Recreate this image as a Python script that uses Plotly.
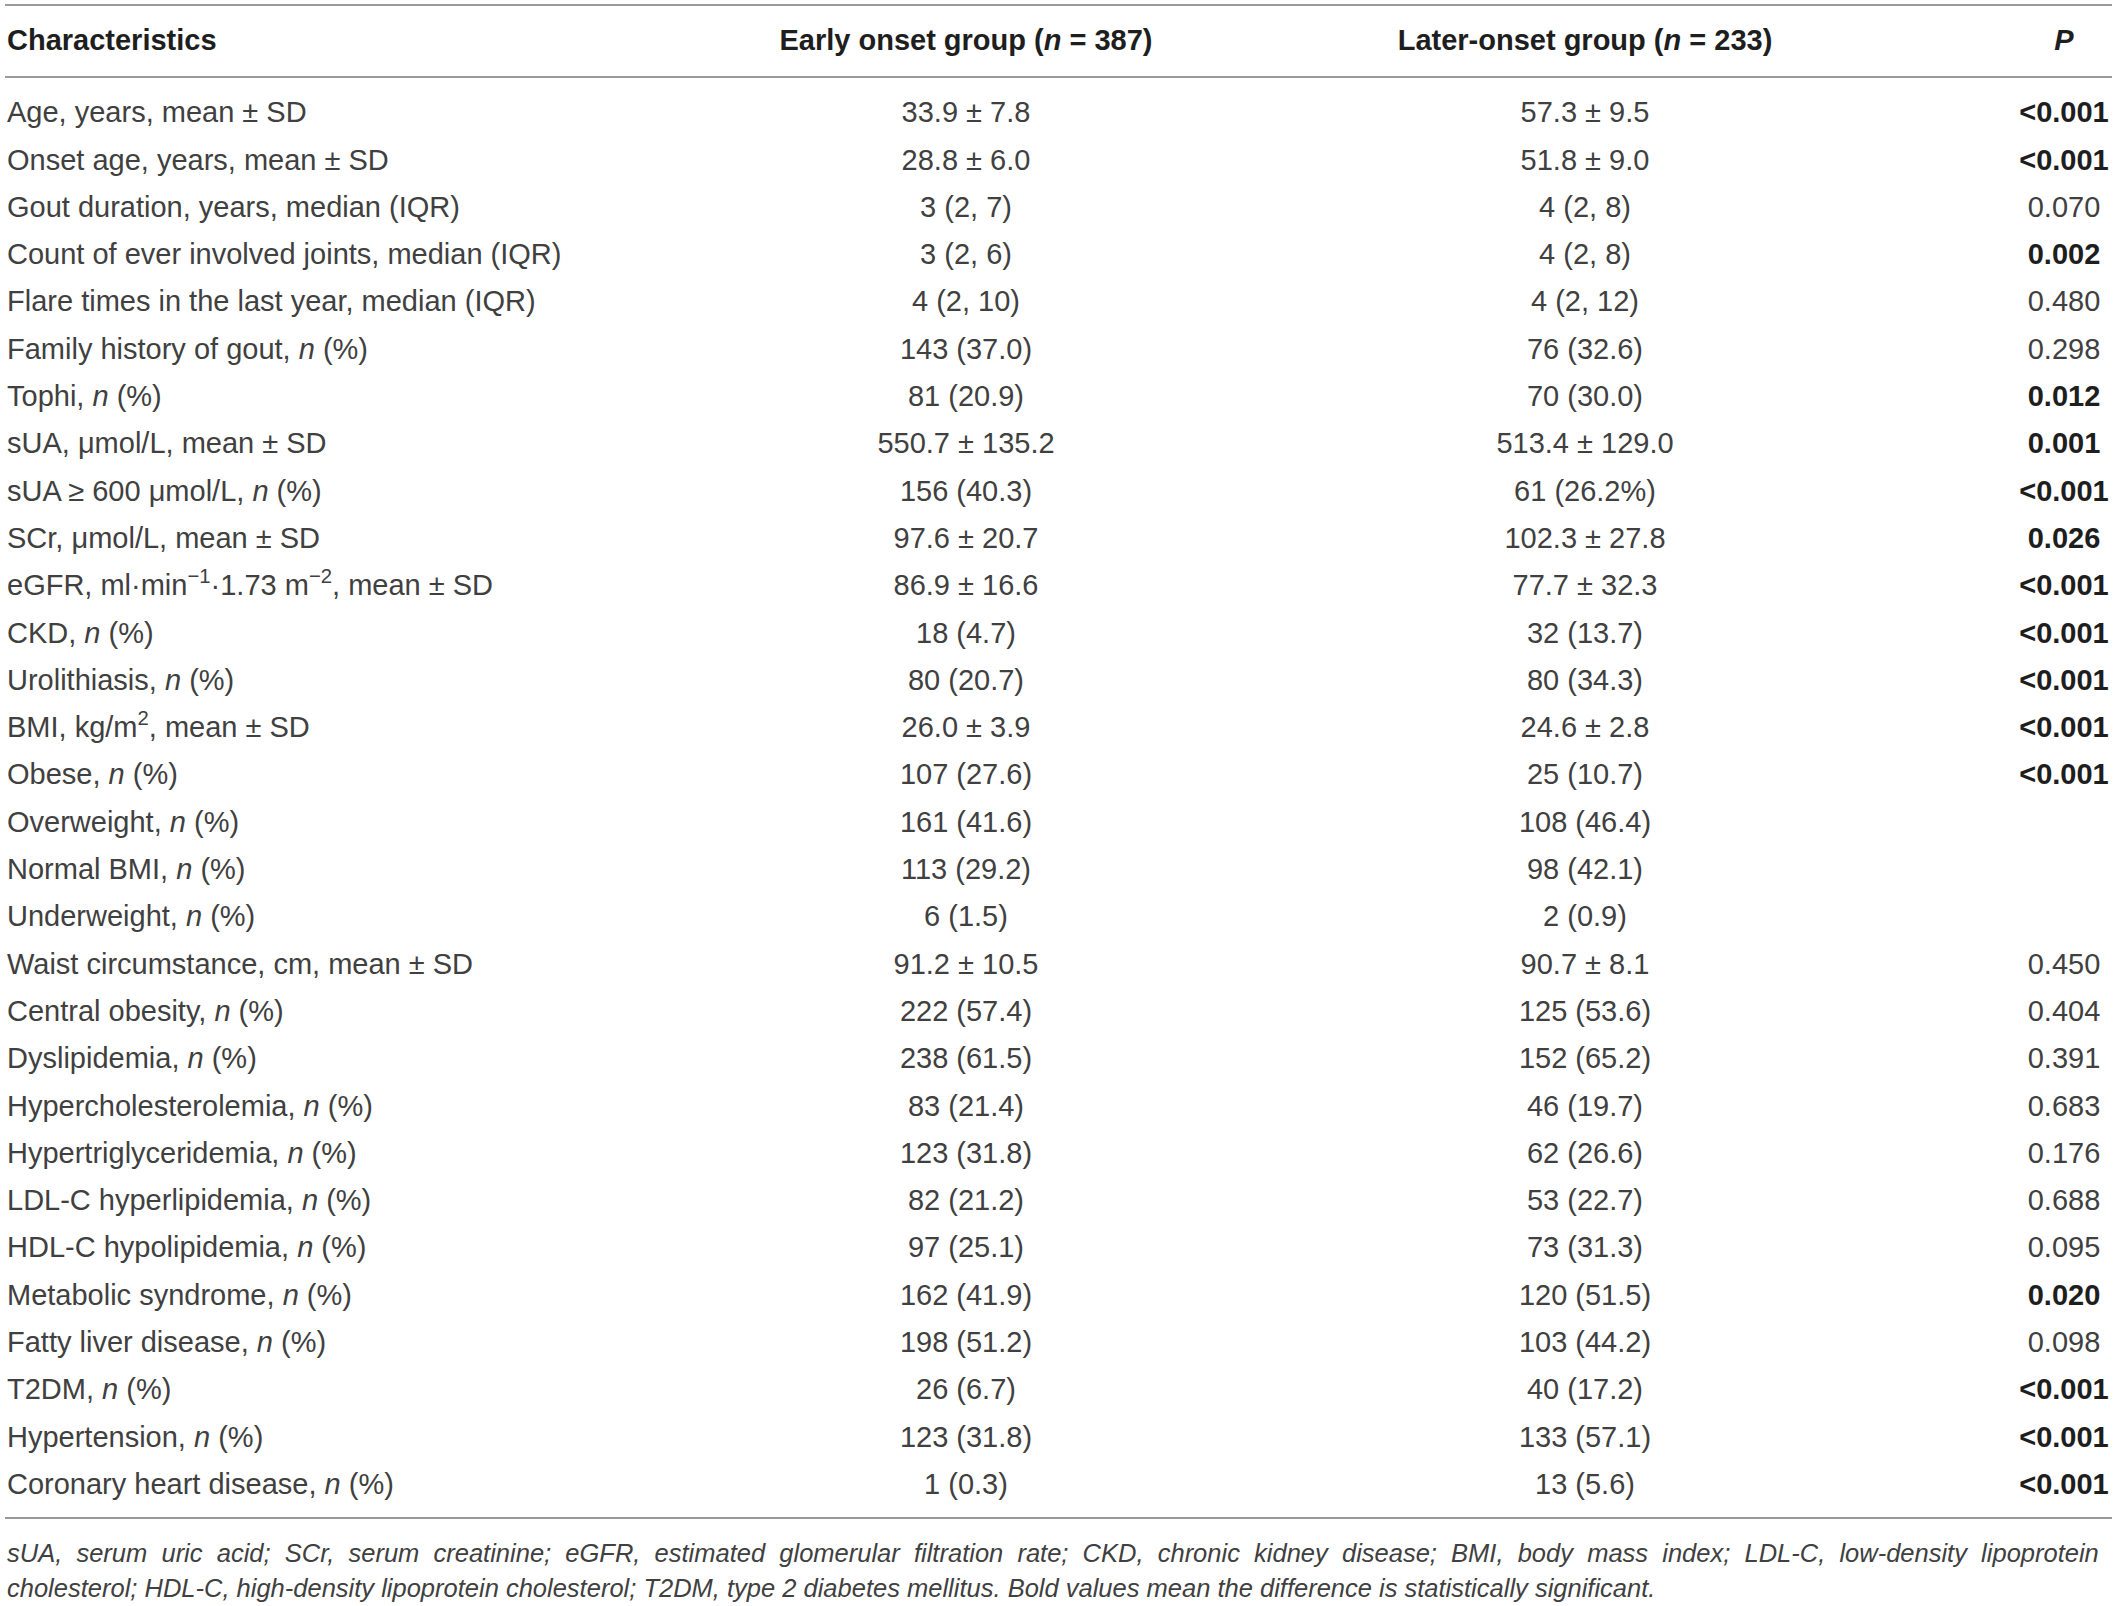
import plotly.graph_objects as go

## dados da tabela
caracteristicas = [
    'Age, years, mean ± SD',
    'Onset age, years, mean ± SD',
    'Gout duration, years, median (IQR)',
    'Count of ever involved joints, median (IQR)',
    'Flare times in the last year, median (IQR)',
    'Family history of gout, <i>n</i> (%)',
    'Tophi, <i>n</i> (%)',
    'sUA, μmol/L, mean ± SD',
    'sUA ≥ 600 μmol/L, <i>n</i> (%)',
    'SCr, μmol/L, mean ± SD',
    'eGFR, ml·min<sup>−1</sup>·1.73 m<sup>−2</sup>, mean ± SD',
    'CKD, <i>n</i> (%)',
    'Urolithiasis, <i>n</i> (%)',
    'BMI, kg/m<sup>2</sup>, mean ± SD',
    'Obese, <i>n</i> (%)',
    'Overweight, <i>n</i> (%)',
    'Normal BMI, <i>n</i> (%)',
    'Underweight, <i>n</i> (%)',
    'Waist circumstance, cm, mean ± SD',
    'Central obesity, <i>n</i> (%)',
    'Dyslipidemia, <i>n</i> (%)',
    'Hypercholesterolemia, <i>n</i> (%)',
    'Hypertriglyceridemia, <i>n</i> (%)',
    'LDL-C hyperlipidemia, <i>n</i> (%)',
    'HDL-C hypolipidemia, <i>n</i> (%)',
    'Metabolic syndrome, <i>n</i> (%)',
    'Fatty liver disease, <i>n</i> (%)',
    'T2DM, <i>n</i> (%)',
    'Hypertension, <i>n</i> (%)',
    'Coronary heart disease, <i>n</i> (%)',
]

grupo_precoce = [
    '33.9 ± 7.8', '28.8 ± 6.0', '3 (2, 7)', '3 (2, 6)', '4 (2, 10)',
    '143 (37.0)', '81 (20.9)', '550.7 ± 135.2', '156 (40.3)', '97.6 ± 20.7',
    '86.9 ± 16.6', '18 (4.7)', '80 (20.7)', '26.0 ± 3.9', '107 (27.6)',
    '161 (41.6)', '113 (29.2)', '6 (1.5)', '91.2 ± 10.5', '222 (57.4)',
    '238 (61.5)', '83 (21.4)', '123 (31.8)', '82 (21.2)', '97 (25.1)',
    '162 (41.9)', '198 (51.2)', '26 (6.7)', '123 (31.8)', '1 (0.3)',
]

grupo_tardio = [
    '57.3 ± 9.5', '51.8 ± 9.0', '4 (2, 8)', '4 (2, 8)', '4 (2, 12)',
    '76 (32.6)', '70 (30.0)', '513.4 ± 129.0', '61 (26.2%)', '102.3 ± 27.8',
    '77.7 ± 32.3', '32 (13.7)', '80 (34.3)', '24.6 ± 2.8', '25 (10.7)',
    '108 (46.4)', '98 (42.1)', '2 (0.9)', '90.7 ± 8.1', '125 (53.6)',
    '152 (65.2)', '46 (19.7)', '62 (26.6)', '53 (22.7)', '73 (31.3)',
    '120 (51.5)', '103 (44.2)', '40 (17.2)', '133 (57.1)', '13 (5.6)',
]

p_valor = [
    '<0.001', '<0.001', '0.070', '0.002', '0.480',
    '0.298', '0.012', '0.001', '<0.001', '0.026',
    '<0.001', '<0.001', '<0.001', '<0.001', '<0.001',
    '', '', '', '0.450', '0.404',
    '0.391', '0.683', '0.176', '0.688', '0.095',
    '0.020', '0.098', '<0.001', '<0.001', '<0.001',
]

significativo = [
    1, 1, 0, 1, 0,
    0, 1, 1, 1, 1,
    1, 1, 1, 1, 1,
    0, 0, 0, 0, 0,
    0, 0, 0, 0, 0,
    1, 0, 1, 1, 1,
]

cabecalho = [
    '<b>Characteristics</b>',
    '<b>Early onset group (<i>n</i> = 387)</b>',
    '<b>Later-onset group (<i>n</i> = 233)</b>',
    '<b><i>P</i></b>',
]

nota = [
    'sUA, serum uric acid; SCr, serum creatinine; eGFR, estimated glomerular filtration rate; '
    'CKD, chronic kidney disease; BMI, body mass index; LDL-C, low-density lipoprotein',
    'cholesterol; HDL-C, high-density lipoprotein cholesterol; T2DM, type 2 diabetes mellitus. '
    'Bold values mean the difference is statistically significant.',
]

################################################################################

W, H = 2118, 1606
FONTE = 'Liberation Sans, Arial, sans-serif'
COR_TEXTO = '#404040'
COR_NEGRITO = '#1e1e1e'
COR_LINHA = '#9a9a9a'
TAM = 29

# posicoes das colunas (px) e das linhas (indice de linha)
x_col = [7, 966, 1585, 2064]
linha0_px, passo = 115, 47.3

def px2lin(p):
    return (p - linha0_px) / passo

linhas = list(range(len(caracteristicas)))

fig = go.Figure()
colunas = [caracteristicas, grupo_precoce, grupo_tardio]
posicoes = ['middle right', 'middle center', 'middle center', 'middle center']
for i, col in enumerate(colunas):
    fig.add_trace(go.Scatter(x=[x_col[i]] * len(col), y=linhas, text=col, mode='text',
                             textposition=posicoes[i], marker=dict(size=0),
                             textfont=dict(family=FONTE, size=TAM, color=COR_TEXTO),
                             showlegend=False, hoverinfo='skip', cliponaxis=False))

# coluna P (so as linhas com valor)
idx_p = [i for i in linhas if p_valor[i]]
fig.add_trace(go.Scatter(x=[x_col[3]] * len(idx_p), y=idx_p,
                         text=[p_valor[i].replace('<', '&lt;') for i in idx_p], mode='text',
                         textposition='middle center', marker=dict(size=0),
                         textfont=dict(family=FONTE, size=TAM,
                                       color=[COR_NEGRITO if significativo[i] else COR_TEXTO for i in idx_p],
                                       weight=['bold' if significativo[i] else 'normal' for i in idx_p]),
                         showlegend=False, hoverinfo='skip', cliponaxis=False))

# cabecalho
fig.add_trace(go.Scatter(x=x_col, y=[px2lin(43)] * 4, text=cabecalho, mode='text',
                         textposition=posicoes, marker=dict(size=0),
                         textfont=dict(family=FONTE, size=TAM, color=COR_NEGRITO),
                         showlegend=False, hoverinfo='skip', cliponaxis=False))

# linhas horizontais
for p in [5, 77, 1518]:
    fig.add_shape(type='line', xref='x', yref='y', x0=5, x1=2112, y0=px2lin(p), y1=px2lin(p),
                  line=dict(color=COR_LINHA, width=2))

# nota de rodape (primeira linha justificada com espacos extras)
nota_txt = [nota[0].replace(' ', ' \u00a0'), nota[1]]
for k, txt in enumerate(nota_txt):
    fig.add_annotation(x=5, y=px2lin([1553, 1588][k]), xref='x', yref='y', text='<i>' + txt + '</i>',
                       showarrow=False, xanchor='left', yanchor='middle',
                       font=dict(family=FONTE, size=25.5, color=COR_TEXTO))

fig.update_xaxes(range=[0, W], visible=False, fixedrange=True)
fig.update_yaxes(range=[px2lin(H), px2lin(0)], visible=False, fixedrange=True)
fig.update_layout(autosize=False, width=W, height=H, margin=dict(l=0, r=0, b=0, t=0),
                  plot_bgcolor='white', paper_bgcolor='white')
fig.write_html('out.html', config={'displayModeBar': False},
               post_script="document.body.style.margin='0';")
